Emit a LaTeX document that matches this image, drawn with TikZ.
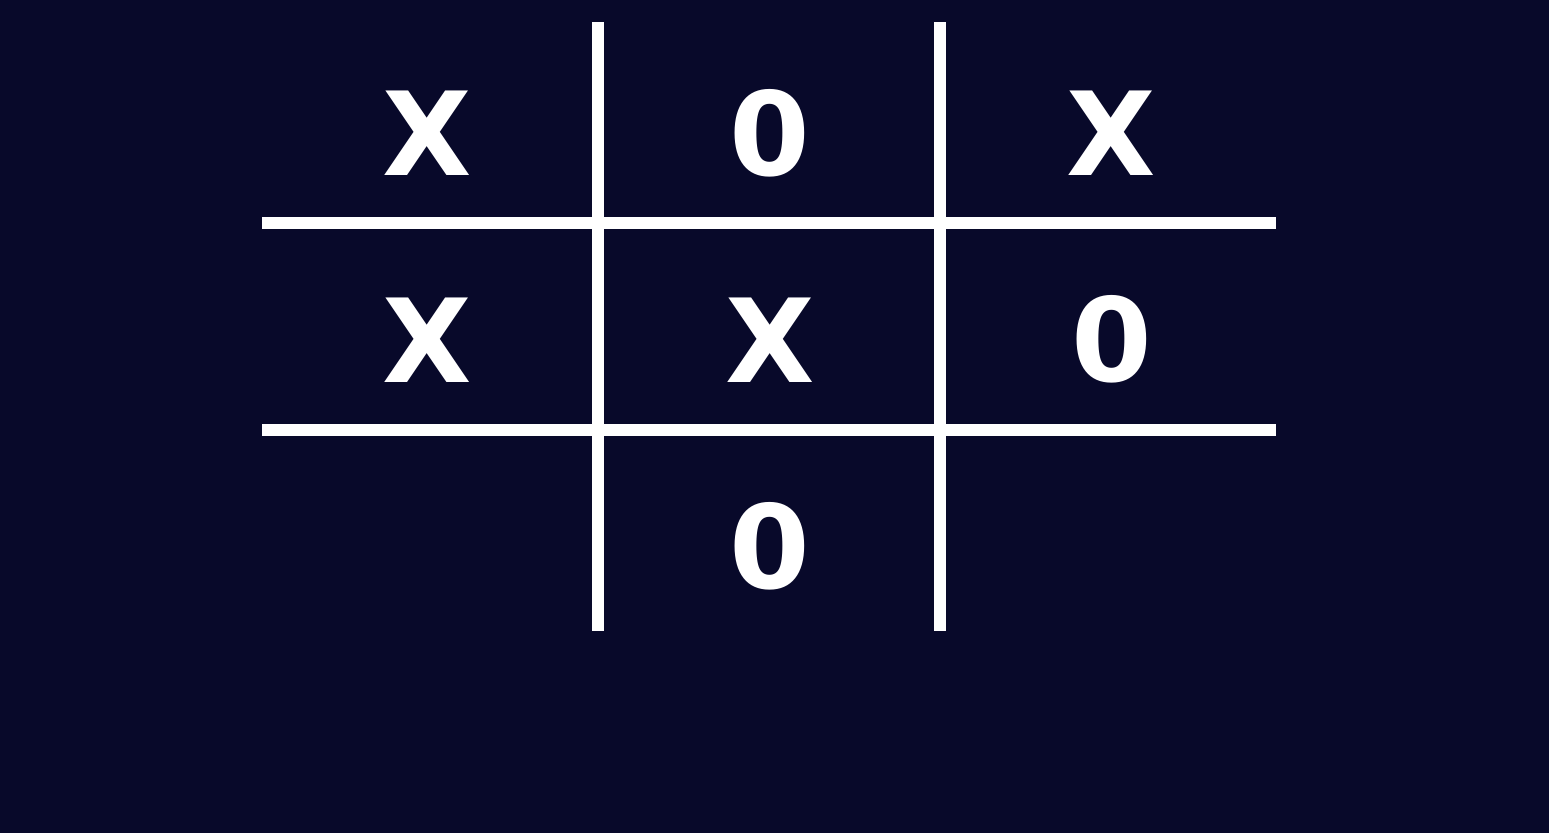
\documentclass[tikz,border=0pt]{standalone}
\usepackage{fontspec}
\setmainfont{DejaVu Sans}
\definecolor{bgnavy}{RGB}{8,9,42}
\tikzset{
  gridline/.style={draw=white, line width=12pt, line cap=butt},
  cellmark/.style={text=white, font=\fontsize{116}{116}\selectfont\bfseries, inner sep=0pt, anchor=base}
}
\begin{document}
\begin{tikzpicture}[x=1pt,y=-1pt]
  \fill[bgnavy] (0,0) rectangle (1549,833);
  \useasboundingbox (0,0) rectangle (1549,833);
  % grid
  \draw[gridline] (598,22) -- (598,631);
  \draw[gridline] (940,22) -- (940,631);
  \draw[gridline] (262,222.7) -- (1276,222.7);
  \draw[gridline] (262,430) -- (1276,430);
  % marks
  \node[cellmark] (a1) at (427.5,175) {X};
  \node[cellmark] (a2) at (770,175.5) {0};
  \node[cellmark] (a3) at (1111.5,175) {X};
  \node[cellmark] (b1) at (427.5,382) {X};
  \node[cellmark] (b2) at (770,382) {X};
  \node[cellmark] (b3) at (1111.5,381.5) {0};
  \node[cellmark] (c2) at (770,588.5) {0};
\end{tikzpicture}
\end{document}
